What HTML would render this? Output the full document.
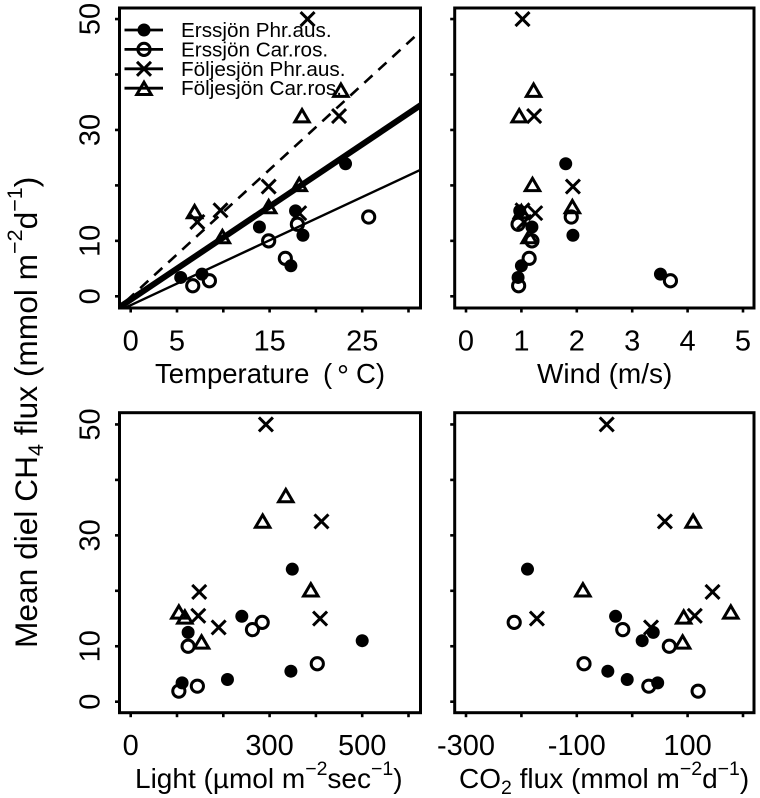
<!DOCTYPE html>
<html lang="en">
<head>
<meta charset="utf-8">
<title>Mean diel CH4 flux vs. environmental drivers</title>
<style>
html,body{margin:0;padding:0;background:#fff;}
svg{display:block;}
text{font-family:"Liberation Sans",sans-serif;fill:#000;}
</style>
</head>
<body>
<svg id="chart" xmlns="http://www.w3.org/2000/svg" width="760" height="798" viewBox="0 0 760 798">
  <rect width="760" height="798" fill="#fff"/>
  <g id="panels"></g>

  <text transform="translate(37,648) rotate(-90)" font-size="31.7">Mean diel CH<tspan font-size="21.5" dy="6">4</tspan><tspan dy="-6"> flux (mmol m</tspan><tspan font-size="21.5" dy="-15">−2</tspan><tspan dy="15">d</tspan><tspan font-size="21.5" dy="-15">−1</tspan><tspan dy="15">)</tspan></text>

  <g font-size="27.5">
    <text x="155" y="383">Temperature</text>
    <text x="323" y="383">(</text>
    <text x="337" y="386" font-size="30">°</text>
    <text x="356" y="383">C)</text>
  </g>
  <text x="537" y="383" font-size="28">Wind (m/s)</text>
  <text x="135" y="788" font-size="28">Light (µmol m<tspan font-size="19.5" dy="-13">−2</tspan><tspan dy="13">sec</tspan><tspan font-size="19.5" dy="-13">−1</tspan><tspan dy="13">)</tspan></text>
  <text x="459" y="788" font-size="28">CO<tspan font-size="19.5" dy="6">2</tspan><tspan dy="-6"> flux (mmol m</tspan><tspan font-size="19.5" dy="-13">−2</tspan><tspan dy="13">d</tspan><tspan font-size="19.5" dy="-13">−1</tspan><tspan dy="13">)</tspan></text>

  <g id="legend"></g>
</svg>
<script>
// Erssjön Phr.aus.
const epCh4 = [3.4, 4.0, 12.5, 15.4, 11.0, 5.5, 23.9];
const epTemp = [5.4, 7.7, 13.9, 17.8, 18.6, 17.3, 23.2];
const epWind = [0.94, 3.51, 1.19, 0.97, 1.93, 1.0, 1.80];
const epLight = [111, 209, 124, 240, 500, 346, 349];
const epCo2 = [46, -9, 38, -30, 18, -44, -189];
// Erssjön Car.ros.
const ecCh4 = [1.9, 2.8, 10, 13, 6.85, 14.3];
const ecTemp = [6.7, 8.5, 14.9, 18.0, 16.7, 25.7];
const ecWind = [0.95, 3.69, 1.19, 0.94, 1.14, 1.90];
const ecLight = [104, 144, 124, 263, 403, 284];
const ecCo2 = [119, 30, 67, -17, -87, -213];
// Följesjön Phr.aus.
const fpCh4 = [50, 32.5, 19.8, 15.0, 15.5, 13.4];
const fpTemp = [19.1, 22.5, 14.9, 18.2, 9.7, 7.2];
const fpWind = [1.02, 1.23, 1.93, 1.25, 1.02, 1.05];
const fpLight = [292, 412, 148, 409, 146, 190];
const fpCo2 = [-46, 59, 145, -172, 113, 34];
// Följesjön Car.ros. (one date has no CO2 value)
const fcCh4 = [37.2, 32.6, 20.2, 16.2, 15.3, 10.8];
const fcTemp = [22.7, 18.5, 18.2, 14.9, 6.9, 9.9];
const fcWind = [1.22, 0.96, 1.2, 1.92, 1.0, 1.14];
const fcLight = [335, 285, 389, 104, 117, 153];
const fcCo2 = [null, 110, -89, 178, 93, 91];

// Regression fits in the temperature panel: [intercept, slope]
const fitThick = [-0.6, 1.12];
const fitThin = [-1.6, 0.78];
const fitDashed = [-0.1, 1.53];

const yTicks = [0, 10, 20, 30, 40, 50];
const yTickLabels = ['0', '10', '', '30', '', '50'];
const tempTicks = [0, 5, 10, 15, 20, 25, 30];
const tempTickLabels = ['0', '5', '', '15', '', '25', ''];
const windTicks = [0, 1, 2, 3, 4, 5];
const windTickLabels = ['0', '1', '2', '3', '4', '5'];
const lightTicks = [0, 100, 200, 300, 400, 500, 600];
const lightTickLabels = ['0', '', '', '300', '', '500', ''];
const co2Ticks = [-300, -200, -100, 0, 100, 200];
const co2TickLabels = ['-300', '', '-100', '', '100', ''];
const legendLabels = ['Erssjön Phr.aus.', 'Erssjön Car.ros.', 'Följesjön Phr.aus.', 'Följesjön Car.ros.'];

const NS = 'http://www.w3.org/2000/svg';
function mk(tag, attrs, parent) {
  const el = document.createElementNS(NS, tag);
  for (const k in attrs) el.setAttribute(k, attrs[k]);
  parent.appendChild(el);
  return el;
}

function drawMarker(parent, kind, cx, cy) {
  let el;
  if (kind === 'filled') {
    el = mk('circle', {cx: cx, cy: cy, r: 6.5, fill: '#000'}, parent);
    
    
  } else if (kind === 'open') {
    el = mk('circle', {cx: cx, cy: cy, r: 6.1, fill: 'none', stroke: '#000', 'stroke-width': 3}, parent);
    
    
  } else if (kind === 'cross') {
    const d = 'M' + (cx - 7) + ' ' + (cy - 7) + 'L' + (cx + 7) + ' ' + (cy + 7) + 'M' + (cx + 7) + ' ' + (cy - 7) + 'L' + (cx - 7) + ' ' + (cy + 7);
    el = mk('path', {d: d, fill: 'none', stroke: '#000', 'stroke-width': 3}, parent);
    
    
  } else {
    const pts = cx + ',' + (cy - 6) + ' ' + (cx + 7.2) + ',' + (cy + 6.3) + ' ' + (cx - 7.2) + ',' + (cy + 6.3);
    el = mk('polygon', {points: pts, fill: 'none', stroke: '#000', 'stroke-width': 3}, parent);
    
    
  }
  return el;
}

const root = document.getElementById('panels');

function drawPanel(opt) {
  const g = mk('g', {}, root);
  
  
  const sx = v => opt.x0 + (v - opt.xTicks[0]) * opt.xScale;
  const sy = v => opt.y0 - v * 5.545;

  // axis box
  const box = mk('rect', {x: opt.left, y: opt.top, width: opt.right - opt.left, height: opt.bottom - opt.top, fill: 'none', stroke: '#000', 'stroke-width': 3}, g);
  
  

  // y ticks
  yTicks.forEach((t, i) => {
    const tick = mk('line', {x1: opt.left - 4.5, x2: opt.left, y1: sy(t), y2: sy(t), stroke: '#000', 'stroke-width': 2.6}, g);
    
    
    if (opt.showYLabels && yTickLabels[i]) {
      const lab = mk('text', {transform: 'translate(' + (opt.left - 20) + ',' + sy(t) + ') rotate(-90)', 'text-anchor': 'middle', 'font-size': 29}, g);
      
      
      lab.textContent = yTickLabels[i];
    }
  });

  // x ticks
  opt.xTicks.forEach((t, i) => {
    const tick = mk('line', {x1: sx(t), x2: sx(t), y1: opt.bottom, y2: opt.bottom + 4.5, stroke: '#000', 'stroke-width': 2.6}, g);
    
    
    if (opt.xLabels[i]) {
      const lab = mk('text', {x: sx(t), y: opt.bottom + 42.5, 'text-anchor': 'middle', 'font-size': 29}, g);
      
      
      lab.textContent = opt.xLabels[i];
    }
  });

  // regression lines
  if (opt.fits) {
    const clip = mk('clipPath', {id: 'clip-' + opt.name}, g);
    mk('rect', {x: opt.left, y: opt.top, width: opt.right - opt.left, height: opt.bottom - opt.top}, clip);
    opt.fits.forEach(f => {
      const xa = opt.xTicks[0] - 2;
      const xb = opt.xTicks[opt.xTicks.length - 1] + 2;
      const attrs = {x1: sx(xa), x2: sx(xb), y1: sy(f.fit[0] + f.fit[1] * xa), y2: sy(f.fit[0] + f.fit[1] * xb), stroke: '#000', 'stroke-width': f.width, 'clip-path': 'url(#clip-' + opt.name + ')'};
      if (f.dash) attrs['stroke-dasharray'] = f.dash;
      const line = mk('line', attrs, g);
      
      
    });
  }

  // points
  opt.series.forEach(s => {
    s.xs.forEach((v, i) => {
      if (v === null) return;
      drawMarker(g, s.kind, sx(v), sy(s.ys[i]));
    });
  });
}

const TOP_Y0 = 296.3, BOT_Y0 = 701.7;

drawPanel({
  name: 'panel-temperature', left: 119.5, right: 420.5, top: 8, bottom: 308, y0: TOP_Y0, showYLabels: true,
  x0: 130.7, xScale: 9.26, xTicks: tempTicks, xLabels: tempTickLabels,
  fits: [
    {fit: fitThick, width: 6, name: 'fit-line-erssjon-phr-aus'},
    {fit: fitThin, width: 2.4, name: 'fit-line-erssjon-car-ros'},
    {fit: fitDashed, width: 2.6, dash: '11 8', name: 'fit-line-foljesjon'}
  ],
  series: [
    {kind: 'filled', xs: epTemp, ys: epCh4},
    {kind: 'open', xs: ecTemp, ys: ecCh4},
    {kind: 'cross', xs: fpTemp, ys: fpCh4},
    {kind: 'tri', xs: fcTemp, ys: fcCh4}
  ]
});
drawPanel({
  name: 'panel-wind', left: 454.7, right: 754, top: 8, bottom: 308, y0: TOP_Y0, showYLabels: false,
  x0: 466, xScale: 55.4, xTicks: windTicks, xLabels: windTickLabels,
  series: [
    {kind: 'filled', xs: epWind, ys: epCh4},
    {kind: 'open', xs: ecWind, ys: ecCh4},
    {kind: 'cross', xs: fpWind, ys: fpCh4},
    {kind: 'tri', xs: fcWind, ys: fcCh4}
  ]
});
drawPanel({
  name: 'panel-light', left: 119.5, right: 420.5, top: 412.7, bottom: 712.7, y0: BOT_Y0, showYLabels: true,
  x0: 130.7, xScale: 0.463, xTicks: lightTicks, xLabels: lightTickLabels,
  series: [
    {kind: 'filled', xs: epLight, ys: epCh4},
    {kind: 'open', xs: ecLight, ys: ecCh4},
    {kind: 'cross', xs: fpLight, ys: fpCh4},
    {kind: 'tri', xs: fcLight, ys: fcCh4}
  ]
});
drawPanel({
  name: 'panel-co2', left: 454.7, right: 754, top: 412.7, bottom: 712.7, y0: BOT_Y0, showYLabels: false,
  x0: 466, xScale: 0.554, xTicks: co2Ticks, xLabels: co2TickLabels,
  series: [
    {kind: 'filled', xs: epCo2, ys: epCh4},
    {kind: 'open', xs: ecCo2, ys: ecCh4},
    {kind: 'cross', xs: fpCo2, ys: fpCh4},
    {kind: 'tri', xs: fcCo2, ys: fcCh4}
  ]
});

// legend
const legendRoot = document.getElementById('legend');
const legendKinds = ['filled', 'open', 'cross', 'tri'];
legendLabels.forEach((label, i) => {
  const ly = 30 + i * 19.4;
  const entry = mk('g', {}, legendRoot);
  
  
  const ln = mk('line', {x1: 124.5, x2: 163, y1: ly, y2: ly, stroke: '#000', 'stroke-width': 2.8}, entry);
  
  
  drawMarker(entry, legendKinds[i], 144, ly);
  const tx = mk('text', {x: 181, y: ly + 7, 'font-size': 20.7}, entry);
  
  
  tx.textContent = label;
});
</script>
</body>
</html>
